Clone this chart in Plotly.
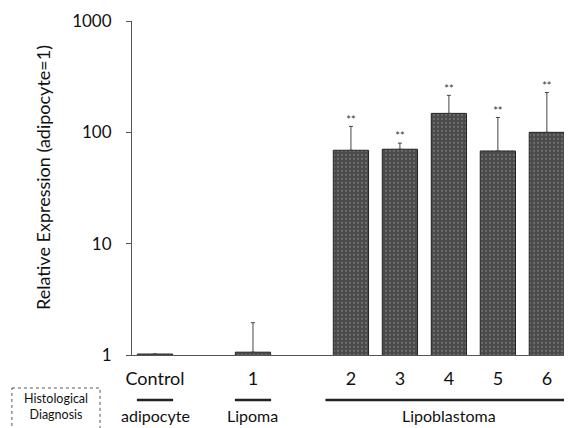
import plotly.graph_objects as go

# ---- data ----
categories = ["Control", "1", "2", "3", "4", "5", "6"]
values = [1.02, 1.06, 69, 70.5, 148, 68, 100]
error_plus = [0, 0.89, 44, 9.5, 67, 68, 128]
stars = ["", "", "**", "**", "**", "**", "**"]
diagnosis_groups = [("adipocyte", ["Control"]), ("Lipoma", ["1"]),
                    ("Lipoblastoma", ["2", "3", "4", "5", "6"])]
y_tickvals = [1, 10, 100, 1000]
y_ticktext = ["1", "10", "100", "1000"]

# category order with blank spacers between groups
axis_order = ["Control", " ", "1", "  ", "2", "3", "4", "5", "6"]

FONT = "Lato, 'Open Sans', sans-serif"

fig = go.Figure()
fig.add_trace(go.Bar(
    x=categories, y=values, width=0.72,
    marker=dict(color="#4a4a4a", line=dict(color="#222", width=1),
                pattern=dict(shape=".", fgcolor="#8c8c8c", size=4, solidity=0.25)),
    error_y=dict(type="data", symmetric=False, array=error_plus,
                 arrayminus=[0] * len(values), color="#444", thickness=1, width=2),
    showlegend=False,
))
fig.add_trace(go.Scatter(
    x=categories, y=[v + e for v, e in zip(values, error_plus)],
    mode="text", text=stars, textposition="top center",
    textfont=dict(size=11, color="#333", family=FONT), showlegend=False,
))

shapes = []
annotations = []
for label, members in diagnosis_groups:
    idx = [axis_order.index(m) for m in members]
    pad = 0.37 if len(idx) == 1 else 0.52
    x0, x1 = min(idx) - pad, max(idx) + pad
    shapes.append(dict(type="line", xref="x", yref="paper", x0=x0, x1=x1,
                       y0=-0.135, y1=-0.135, line=dict(color="#222", width=2.5)))
    annotations.append(dict(xref="x", yref="paper", x=(min(idx) + max(idx)) / 2,
                            y=-0.18, xanchor="center", yanchor="middle",
                            text=label, showarrow=False,
                            font=dict(size=16, color="#111", family=FONT)))

shapes.append(dict(type="rect", xref="paper", yref="paper", x0=-0.278, x1=-0.074,
                   y0=-0.0988, y1=-0.26, line=dict(color="#555", width=1, dash="dot")))
annotations.append(dict(xref="paper", yref="paper", x=-0.176, y=-0.155,
                        xanchor="center", yanchor="middle",
                        text="Histological<br>Diagnosis", showarrow=False,
                        font=dict(size=12.5, color="#111", family=FONT)))
annotations.append(dict(xref="paper", yref="paper", x=-0.206, y=0.53,
                        xanchor="center", yanchor="middle",
                        text="Relative Expression (adipocyte=1)", textangle=-90,
                        showarrow=False, font=dict(size=18, color="#111", family=FONT)))

# page body has an 8px default margin; compensate so the plot lands where intended
fig.update_layout(
    width=573, height=428,
    margin=dict(l=124, r=17, t=13, b=81),
    paper_bgcolor="white", plot_bgcolor="white",
    font=dict(family=FONT, color="#111"),
    shapes=shapes, annotations=annotations,
)
fig.update_xaxes(
    type="category", categoryorder="array", categoryarray=axis_order,
    range=[-0.47, 8.35], showline=True, linecolor="#555", linewidth=1,
    ticks="outside", ticklen=7, tickcolor="rgba(0,0,0,0)", automargin=False,
    tickfont=dict(size=18, family=FONT, color="#111"), showgrid=False, zeroline=False,
)
fig.update_yaxes(
    type="log", range=[0, 3], tickvals=y_tickvals, ticktext=y_ticktext,
    showline=True, linecolor="#555", linewidth=1, ticks="outside", ticklen=5,
    tickcolor="#555", ticklabelstandoff=11, automargin=False,
    tickfont=dict(size=17, family=FONT, color="#111"), showgrid=False, zeroline=False,
)

fig.write_html("out.html")
